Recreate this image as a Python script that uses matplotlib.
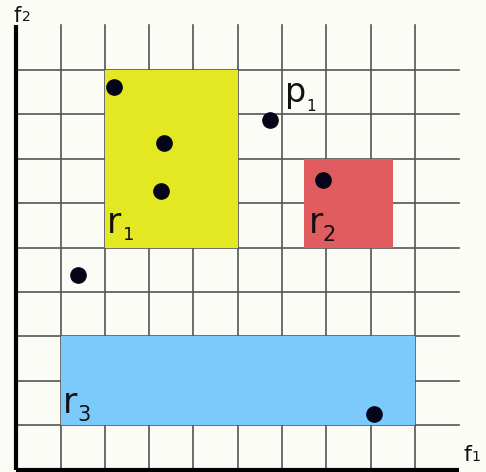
import matplotlib.pyplot as plt
from matplotlib.patches import Rectangle

# points in grid units
px = [2.21, 3.34, 3.27, 5.73, 6.93, 1.39, 8.08]
py = [8.61, 7.35, 6.28, 7.87, 6.53, 4.38, 1.25]

# rectangles: (x0, y0, width, height, colour)
rect_names = ['r1', 'r2', 'r3']
rect_x = [2, 6.5, 1]
rect_y = [5, 5, 1]
rect_w = [3, 2, 8]
rect_h = [4, 2, 2]
rect_colors = ['#e4e822', '#e05c5e', '#7ccafb']

n_cells = 10

fig = plt.figure(figsize=(4.86, 4.72), dpi=100)
fig.patch.set_facecolor('#fcfcf6')
ax = fig.add_axes([0, 0, 1, 1])
ax.set_facecolor('#fcfcf6')
ax.set_xlim(-0.366, 10.605)
ax.set_ylim(-0.056, 10.574)
ax.axis('off')

# grid
for k in range(1, n_cells):
    ax.plot([k, k], [0, n_cells], color='#555555', lw=1.2, zorder=1)
    ax.plot([0, n_cells], [k, k], color='#555555', lw=1.2, zorder=1)

# regions
for x0, y0, w, h, c in zip(rect_x, rect_y, rect_w, rect_h, rect_colors):
    ax.add_patch(Rectangle((x0, y0), w, h, facecolor=c, edgecolor='none', zorder=2))

# axes lines
ax.plot([0, 0], [0, n_cells], color='black', lw=3, zorder=4, solid_capstyle='butt')
ax.plot([0, n_cells], [0, 0], color='black', lw=3, zorder=4, solid_capstyle='butt')

ax.plot(px, py, 'o', color='#05051a', markersize=11, zorder=5)

# labels: main letter + subscript
def label(x, y, main, sub, size, subsize, sx, sy):
    ax.text(x, y, main, fontsize=size, va='baseline', ha='left', color='#111111', zorder=6)
    ax.text(sx, sy, sub, fontsize=subsize, va='baseline', ha='left', color='#111111', zorder=6)

label(2.05, 5.33, 'r', '1', 25, 13, 2.41, 5.17)
label(6.61, 5.33, 'r', '2', 25, 15, 6.92, 5.15)
label(1.06, 1.27, 'r', '3', 25, 15, 1.39, 1.10)
label(6.07, 8.28, 'p', '1', 24, 11, 6.56, 8.07)
label(-0.05, 10.08, 'f', '2', 15, 10, 0.14, 10.09)
label(10.09, 0.19, 'f', '1', 16, 10, 10.28, 0.19)

fig.savefig('out.png', dpi=100, facecolor=fig.get_facecolor())
